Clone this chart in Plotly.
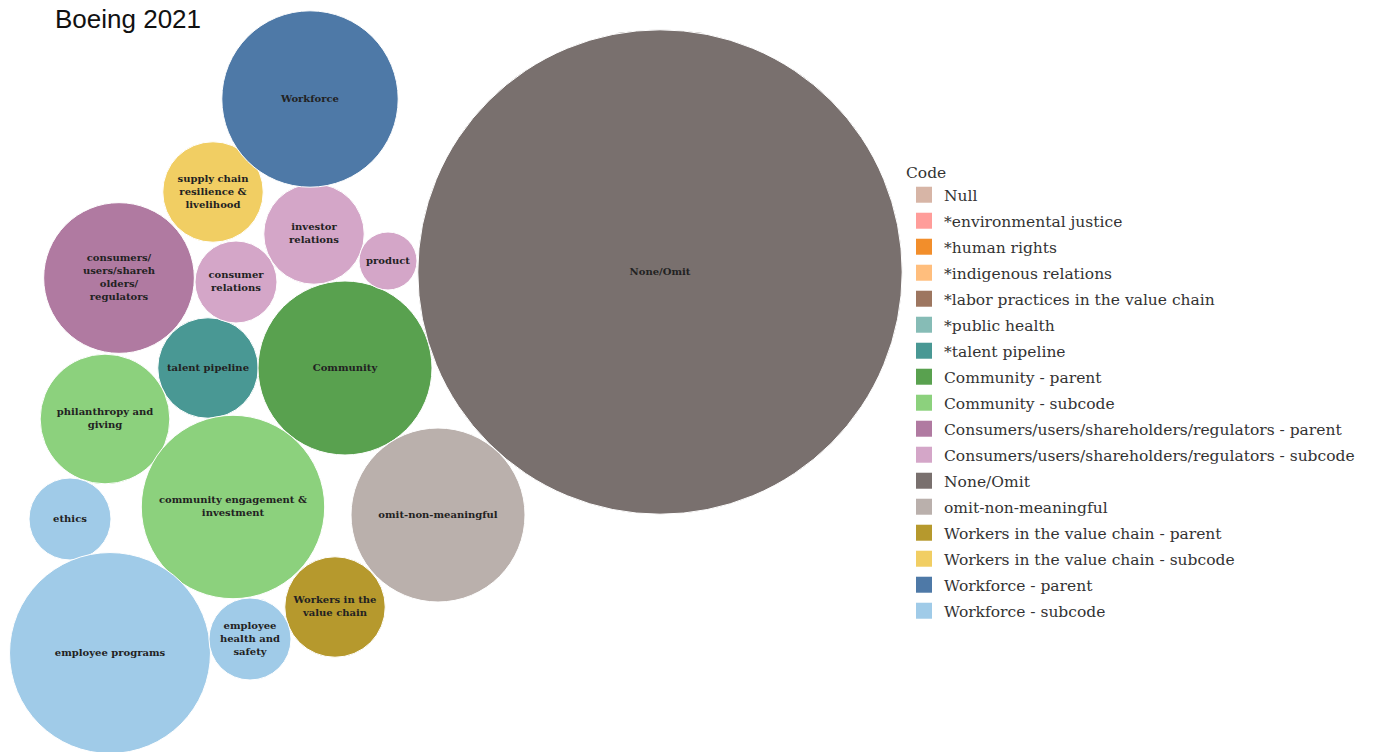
import plotly.graph_objects as go

# ---------------- data ----------------
bubble_labels = [
    "None/Omit", "Workforce", "supply chain resilience & livelihood",
    "investor relations", "product", "consumer relations",
    "consumers/users/shareholders/regulators", "Community", "talent pipeline",
    "philanthropy and giving", "community engagement & investment", "ethics",
    "employee programs", "employee health and safety",
    "Workers in the value chain", "omit-non-meaningful",
]
bubble_text = [
    "None/Omit", "Workforce", "supply chain<br>resilience &<br>livelihood",
    "investor<br>relations", "product", "consumer<br>relations",
    "consumers/<br>users/shareh<br>olders/<br>regulators", "Community", "talent pipeline",
    "philanthropy and<br>giving", "community engagement &<br>investment", "ethics",
    "employee programs", "employee<br>health and<br>safety",
    "Workers in the<br>value chain", "omit-non-meaningful",
]
bubble_codes = [
    "None/Omit", "Workforce - parent", "Workers in the value chain - subcode",
    "Consumers/users/shareholders/regulators - subcode",
    "Consumers/users/shareholders/regulators - subcode",
    "Consumers/users/shareholders/regulators - subcode",
    "Consumers/users/shareholders/regulators - parent", "Community - parent",
    "*talent pipeline", "Community - subcode", "Community - subcode",
    "Workforce - subcode", "Workforce - subcode", "Workforce - subcode",
    "Workers in the value chain - parent", "omit-non-meaningful",
]
bubble_counts = [279, 37, 12, 12, 4, 8, 27, 36, 12, 20, 40, 8, 48, 8, 12, 36]

legend_codes = [
    "Null", "*environmental justice", "*human rights", "*indigenous relations",
    "*labor practices in the value chain", "*public health", "*talent pipeline",
    "Community - parent", "Community - subcode",
    "Consumers/users/shareholders/regulators - parent",
    "Consumers/users/shareholders/regulators - subcode",
    "None/Omit", "omit-non-meaningful",
    "Workers in the value chain - parent", "Workers in the value chain - subcode",
    "Workforce - parent", "Workforce - subcode",
]
legend_colors = [
    "#D7B5A6", "#FF9D9A", "#F28E2B", "#FFBE7D", "#9D7660", "#86BCB6", "#499894",
    "#59A14F", "#8CD17D", "#B07AA1", "#D4A6C8", "#79706E", "#BAB0AC",
    "#B6992D", "#F1CE63", "#4E79A7", "#A0CBE8",
]

# ---------------- layout (packed positions, pixel space) ----------------
pack_x = [660, 310, 213, 314, 388, 236, 119, 345, 208, 105, 233, 70, 110, 250, 335, 438]
pack_y = [272, 99, 192, 234, 261, 282, 278, 368, 368, 419, 507, 519, 653, 639, 607, 515]
W, H = 1374, 752
PX_PER_SQRT_COUNT = 14.5
sizeref = 1.0 / (2 * PX_PER_SQRT_COUNT ** 2)

color_of = dict(zip(legend_codes, legend_colors))

fig = go.Figure()

for code in legend_codes:
    idx = [i for i, c in enumerate(bubble_codes) if c == code]
    if not idx:
        continue
    fig.add_trace(go.Scatter(
        x=[pack_x[i] for i in idx],
        y=[pack_y[i] for i in idx],
        mode="markers+text",
        text=[bubble_text[i] for i in idx],
        customdata=[bubble_counts[i] for i in idx],
        hovertext=[bubble_labels[i] for i in idx],
        hovertemplate="%{hovertext}<br>%{customdata}<extra></extra>",
        textposition="middle center",
        textfont=dict(family="DejaVu Serif", size=10, color="#222222", weight="bold"),
        marker=dict(
            size=[bubble_counts[i] for i in idx],
            sizemode="area",
            sizeref=sizeref,
            color=color_of[code],
            opacity=1,
            line=dict(color="white", width=1),
        ),
        cliponaxis=False,
        showlegend=False,
        legendgroup=code,
    ))

for code, col in zip(legend_codes, legend_colors):
    fig.add_trace(go.Scatter(
        x=[None], y=[None], mode="markers", name=code, legendgroup=code,
        marker=dict(symbol="square", size=16, color=col),
        showlegend=True,
    ))

fig.update_layout(
    width=W, height=H,
    margin=dict(l=0, r=0, t=0, b=0),
    paper_bgcolor="white", plot_bgcolor="white",
    xaxis=dict(range=[0, W], visible=False, fixedrange=True),
    yaxis=dict(range=[H, 0], visible=False, fixedrange=True),
    showlegend=True,
    legend=dict(
        x=904 / W, xanchor="left",
        y=1 - 158 / H, yanchor="top",
        font=dict(family="DejaVu Serif", size=15.5, color="#333333"),
        title=dict(text="Code", font=dict(family="DejaVu Serif", size=15.5, color="#333333")),
        tracegroupgap=2.85, bgcolor="rgba(0,0,0,0)",
    ),
    annotations=[dict(
        text="Boeing 2021", x=53, y=19, xref="x", yref="y",
        xanchor="left", yanchor="middle", showarrow=False,
        font=dict(family="Liberation Sans", size=26, color="#111111"),
    )],
)

fig.write_html(
    "out.html",
    config={"displayModeBar": False},
    post_script="document.body.style.margin='0';",
)
